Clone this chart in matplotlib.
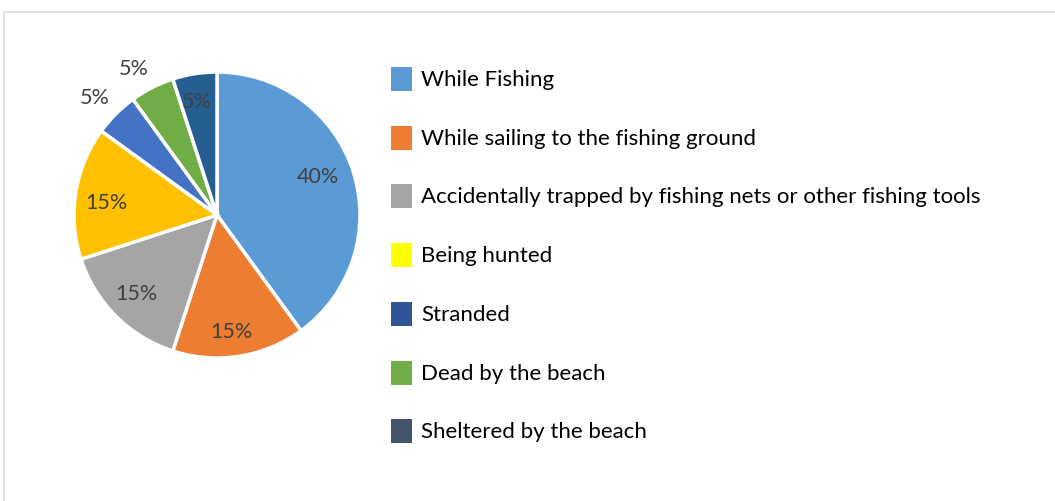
import matplotlib.pyplot as plt
from matplotlib.patches import Rectangle
import numpy as np

categories = [
    "While Fishing",
    "While sailing to the fishing ground",
    "Accidentally trapped by fishing nets or other fishing tools",
    "Being hunted",
    "Stranded",
    "Dead by the beach",
    "Sheltered by the beach",
]
shares = [40, 15, 15, 15, 5, 5, 5]
slice_colors = ["#5B9BD5", "#ED7D31", "#A5A5A5", "#FFC000", "#4472C4", "#70AD47", "#255E91"]
legend_colors = ["#5B9BD5", "#ED7D31", "#A5A5A5", "#FFFF00", "#2F5597", "#70AD47", "#44546A"]
label_radius = [0.75, 0.81, 0.78, 0.78, 1.20, 1.18, 0.82]
# fine pixel nudges for the percentage labels (x right, y up)
label_nudge = [(-1, 5), (-4, -3), (-2, 0), (0, -5), (-1, -4), (-7, -4), (-2, -3)]

W, H = 1055, 501
fig = plt.figure(figsize=(W / 100, H / 100), dpi=100)
FONT = "Lato"
TXT = "#404040"

# light chart frame
fig.patches.append(Rectangle((4 / W, -0.1), 1.2, (H - 12) / H + 0.1,
                             transform=fig.transFigure, fill=False,
                             edgecolor="#D9D9D9", linewidth=1.2))

cx, cy, r = 217, H - 215, 143
ax = fig.add_axes([(cx - r) / W, (cy - r) / H, 2 * r / W, 2 * r / H])
wedges, _ = ax.pie(shares, colors=slice_colors, startangle=90, counterclock=False,
                   radius=1.0, wedgeprops=dict(edgecolor="white", linewidth=2.5))
ax.set_xlim(-1, 1)
ax.set_ylim(-1, 1)
ax.set_aspect("equal")
ax.axis("off")

for w, v, lr, nd in zip(wedges, shares, label_radius, label_nudge):
    mid = np.deg2rad((w.theta1 + w.theta2) / 2)
    ax.annotate(f"{v}%", (lr * np.cos(mid), lr * np.sin(mid)), xytext=nd,
                textcoords="offset pixels", ha="center", va="center",
                fontsize=15.5, color=TXT, family=FONT, annotation_clip=False)

# legend
y0, dy = 79, 58.7
for i, (lab, col) in enumerate(zip(categories, legend_colors)):
    yc = y0 + i * dy
    fig.patches.append(Rectangle((391 / W, (H - yc - 12) / H), 21 / W, 24 / H,
                                 transform=fig.transFigure, facecolor=col,
                                 edgecolor="none"))
    fig.text(421 / W, (H - yc - 1) / H, lab, ha="left", va="center",
             fontsize=16, color="black", family=FONT)

fig.savefig("out.png", dpi=100)
